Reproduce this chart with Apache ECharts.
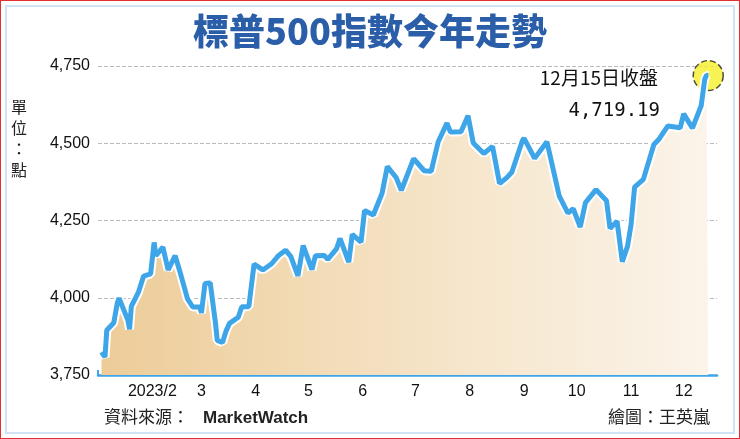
<!DOCTYPE html>
<html><head><meta charset="utf-8">
<script src="https://cdn.jsdelivr.net/npm/echarts@6/dist/echarts.min.js"></script>
<style>html,body{margin:0;padding:0;background:#fff}#c{width:740px;height:439px}
#frame{position:absolute;left:0;top:0;width:738px;height:437px;border:1px solid #e03030;pointer-events:none}
#inner{position:absolute;left:5px;top:5px;width:726px;height:425px;border:2px solid #cfe3f2;pointer-events:none}</style>
</head><body><div id="c"></div><div id="frame"></div><div id="inner"></div>
<script>
const dates = ["2023-01-03","2023-01-05","2023-01-06","2023-01-10","2023-01-12","2023-01-13","2023-01-18","2023-01-19","2023-01-20","2023-01-24","2023-01-27","2023-01-31","2023-02-02","2023-02-03","2023-02-07","2023-02-10","2023-02-14","2023-02-17","2023-02-21","2023-02-24","2023-02-28","2023-03-01","2023-03-03","2023-03-06","2023-03-09","2023-03-10","2023-03-13","2023-03-15","2023-03-17","2023-03-22","2023-03-24","2023-03-28","2023-03-31","2023-04-05","2023-04-10","2023-04-14","2023-04-18","2023-04-21","2023-04-25","2023-04-28","2023-05-03","2023-05-05","2023-05-10","2023-05-12","2023-05-17","2023-05-19","2023-05-24","2023-05-26","2023-05-31","2023-06-02","2023-06-07","2023-06-12","2023-06-15","2023-06-20","2023-06-23","2023-06-30","2023-07-06","2023-07-10","2023-07-14","2023-07-19","2023-07-21","2023-07-27","2023-07-31","2023-08-03","2023-08-09","2023-08-14","2023-08-18","2023-08-22","2023-08-25","2023-08-31","2023-09-01","2023-09-07","2023-09-14","2023-09-21","2023-09-26","2023-09-29","2023-10-03","2023-10-06","2023-10-12","2023-10-18","2023-10-20","2023-10-24","2023-10-27","2023-10-30","2023-11-01","2023-11-03","2023-11-08","2023-11-14","2023-11-17","2023-11-22","2023-11-29","2023-12-01","2023-12-06","2023-12-11","2023-12-13","2023-12-14","2023-12-15"];
const values = [3824,3808,3895,3919,3983,3999,3928,3898,3972,4017,4070,4077,4179,4136,4164,4090,4136,4079,3997,3970,3970,3951,4046,4048,3918,3862,3855,3892,3917,3937,3971,3971,4109,4090,4110,4137,4154,4133,4071,4169,4091,4136,4137,4124,4158,4192,4115,4205,4180,4282,4268,4338,4425,4389,4348,4450,4411,4409,4505,4565,4536,4537,4589,4501,4467,4490,4370,4388,4406,4508,4516,4451,4505,4330,4274,4288,4229,4308,4350,4314,4224,4248,4117,4167,4237,4358,4383,4496,4514,4556,4550,4595,4549,4622,4707,4720,4719];
const yTicks = [3750,4000,4250,4500,4750];
const monthLabels = ["","2023/2","3","4","5","6","7","8","9","10","11","12"];
const data = dates.map((d,i)=>[d,values[i]]);
const last = data[data.length-1];
const ch = echarts.init(document.getElementById('c'));
ch.setOption({
  animation:false,
  title:{text:'標普500指數今年走勢',left:'center',top:8,textStyle:{color:'#2b5ea8',fontSize:36,fontWeight:900,fontFamily:'Noto Sans CJK TC'}},
  grid:{left:98,right:23,top:66,bottom:64},
  xAxis:{type:'time',min:'2023-01-01',max:'2023-12-20',
    axisLine:{lineStyle:{color:'#3da5e8',width:2.5}},
    axisTick:{show:true,inside:true,lineStyle:{color:'#3da5e8',width:2},length:5},
    splitLine:{show:false},minInterval:28*86400000,
    axisLabel:{color:'#111',fontSize:16,fontFamily:'Liberation Sans',margin:9,
      formatter:v=>{const m=new Date(v).getMonth();return monthLabels[m];}}},
  yAxis:{type:'value',min:3750,max:4750,interval:250,
    axisLine:{show:false},axisTick:{show:false},
    splitLine:{lineStyle:{color:'#bbb',type:'dashed'}},
    axisLabel:{color:'#111',fontSize:16,fontFamily:'Liberation Sans',margin:8,
      formatter:v=>yTicks.includes(v)?v.toLocaleString('en-US'):''}},
  graphic:[
    {type:'text',left:11,top:96,style:{text:'單\n位\n：\n點',fill:'#222',font:'16px "Noto Sans CJK TC"',lineHeight:21}},
    {type:'text',left:104,top:408,style:{text:'資料來源：',fill:'#222',font:'17px "Noto Sans CJK TC"'}},
    {type:'text',left:203,top:410,style:{text:'MarketWatch',fill:'#222',font:'bold 17px "Liberation Sans"'}},
    {type:'text',right:30,top:408,style:{text:'繪圖：王英嵐',fill:'#222',font:'17px "Noto Sans CJK TC"'}},
    {type:'text',right:82,top:68,style:{text:'12月15日收盤',fill:'#111',font:'19px "Noto Sans CJK TC"',align:'right'}},
    {type:'text',right:80,top:102,style:{text:'4,719.19',fill:'#111',font:'19px "DejaVu Sans Mono"',align:'right'}}
  ],
  series:[
    {type:'line',data:data,showSymbol:false,lineStyle:{color:'#fff',width:9},z:2,
     areaStyle:{origin:'start',opacity:1,color:new echarts.graphic.LinearGradient(0,0,1,0,[{offset:0,color:'#edcc98'},{offset:0.6,color:'#f6e6cc'},{offset:1,color:'#fbf4ea'}])}},
    {type:'line',data:data,showSymbol:false,lineStyle:{color:'#3da5e8',width:5},z:3},
    {type:'scatter',data:[last],symbolSize:30,z:1,itemStyle:{color:'#f5f02a',borderColor:'#222',borderWidth:1.5,borderType:'dashed'}}
  ]
});
</script></body></html>
